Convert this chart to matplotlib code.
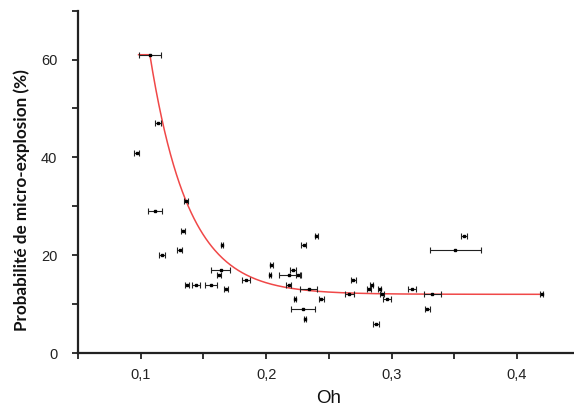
import numpy as np
import matplotlib
matplotlib.use("Agg")
import matplotlib.pyplot as plt
from matplotlib.ticker import MultipleLocator, FuncFormatter

# Data (Ohnesorge number vs micro-explosion probability)
oh = [0.1073, 0.1138, 0.0968, 0.1363, 0.1114, 0.1340, 0.1310, 0.1170, 0.1650,
      0.1638, 0.1623, 0.1369, 0.1440, 0.1560, 0.1680, 0.1840, 0.2042, 0.2033,
      0.2215, 0.2185, 0.2256, 0.2180, 0.2300, 0.2400, 0.2340, 0.2232, 0.2440,
      0.2294, 0.2308, 0.2662, 0.2695, 0.2820, 0.2841, 0.2905, 0.2923, 0.2964,
      0.2876, 0.3163, 0.3324, 0.3286, 0.3579, 0.3508, 0.4199]
prob = [61.0, 47.0, 41.0, 31.0, 29.0, 25.0, 21.0, 20.0, 22.0,
        17.0, 16.0, 14.0, 14.0, 14.0, 13.0, 15.0, 18.0, 16.0,
        17.0, 16.0, 16.0, 14.0, 22.0, 24.0, 13.0, 11.0, 11.0,
        9.0, 7.0, 12.0, 15.0, 13.0, 14.0, 13.0, 12.0, 11.0,
        6.0, 13.0, 12.0, 9.0, 24.0, 21.0, 12.0]
oh_err = [0.0090, 0.0025, 0.0020, 0.0015, 0.0055, 0.0015, 0.0020, 0.0025, 0.0008,
          0.0078, 0.0018, 0.0015, 0.0030, 0.0050, 0.0015, 0.0035, 0.0015, 0.0008,
          0.0022, 0.0085, 0.0020, 0.0022, 0.0018, 0.0012, 0.0067, 0.0010, 0.0018,
          0.0097, 0.0008, 0.0035, 0.0018, 0.0015, 0.0010, 0.0015, 0.0015, 0.0030,
          0.0025, 0.0035, 0.0067, 0.0020, 0.0025, 0.0205, 0.0012]

# Exponential-decay fit parameters
fit_y0 = 12.0
fit_A = 49.0
fit_x0 = 0.1073
fit_t = 0.0306
fit_end = 0.4199

xticks = [0.1, 0.2, 0.3, 0.4]
yticks = [0, 20, 40, 60]

fig = plt.figure(figsize=(5.74, 4.11), dpi=100)
ax = fig.add_axes([78 / 574, 58 / 411, 1 - 78 / 574, (353 - 10.7) / 411])

tick_font = "Liberation Sans"

# fit curve
xc = np.linspace(fit_x0, fit_end, 400)
yc = fit_y0 + fit_A * np.exp(-(xc - fit_x0) / fit_t)
xc = np.concatenate([[oh[0] - oh_err[0]], xc])
yc = np.concatenate([[yc[0]], yc])
ax.plot(xc, yc, color="#f04848", lw=1.1, zorder=1)

ax.errorbar(oh, prob, xerr=oh_err, fmt="s", ms=1.8, color="black",
            ecolor="#222222", elinewidth=0.8, capsize=2.0, capthick=0.8, zorder=3)

ax.set_xlim(0.05, 0.4455)
ax.set_ylim(0, 70)

for s in ["top", "right"]:
    ax.spines[s].set_visible(False)
for s in ["left", "bottom"]:
    ax.spines[s].set_linewidth(1.6)
    ax.spines[s].set_color("#222222")

ax.xaxis.set_major_locator(plt.FixedLocator(xticks))
ax.xaxis.set_minor_locator(MultipleLocator(0.05))
ax.yaxis.set_major_locator(plt.FixedLocator(yticks))
ax.yaxis.set_minor_locator(MultipleLocator(10))
ax.xaxis.set_major_formatter(FuncFormatter(lambda v, p: f"{v:.1f}".replace(".", ",")))
ax.yaxis.set_major_formatter(FuncFormatter(lambda v, p: f"{v:.0f}"))

ax.tick_params(which="both", direction="out", length=4, width=1.3, color="#222222")
ax.tick_params(axis="x", which="major", pad=7, labelsize=10.5, labelcolor="#222222")
ax.tick_params(axis="y", which="major", pad=11, labelsize=10.5, labelcolor="#222222")
for lab in ax.get_xticklabels() + ax.get_yticklabels():
    lab.set_fontfamily(tick_font)

fig.text(329 / 574, 1 - 398 / 411, "Oh", ha="center", va="center",
         fontsize=13.5, family=tick_font, color="#111111")
fig.text(22 / 574, 1 - 200 / 411, "Probabilité de micro-explosion (%)", rotation=90,
         ha="center", va="center", fontsize=12.3, family="Lato", fontweight="bold",
         color="#111111")

fig.savefig("out.png", dpi=100)
